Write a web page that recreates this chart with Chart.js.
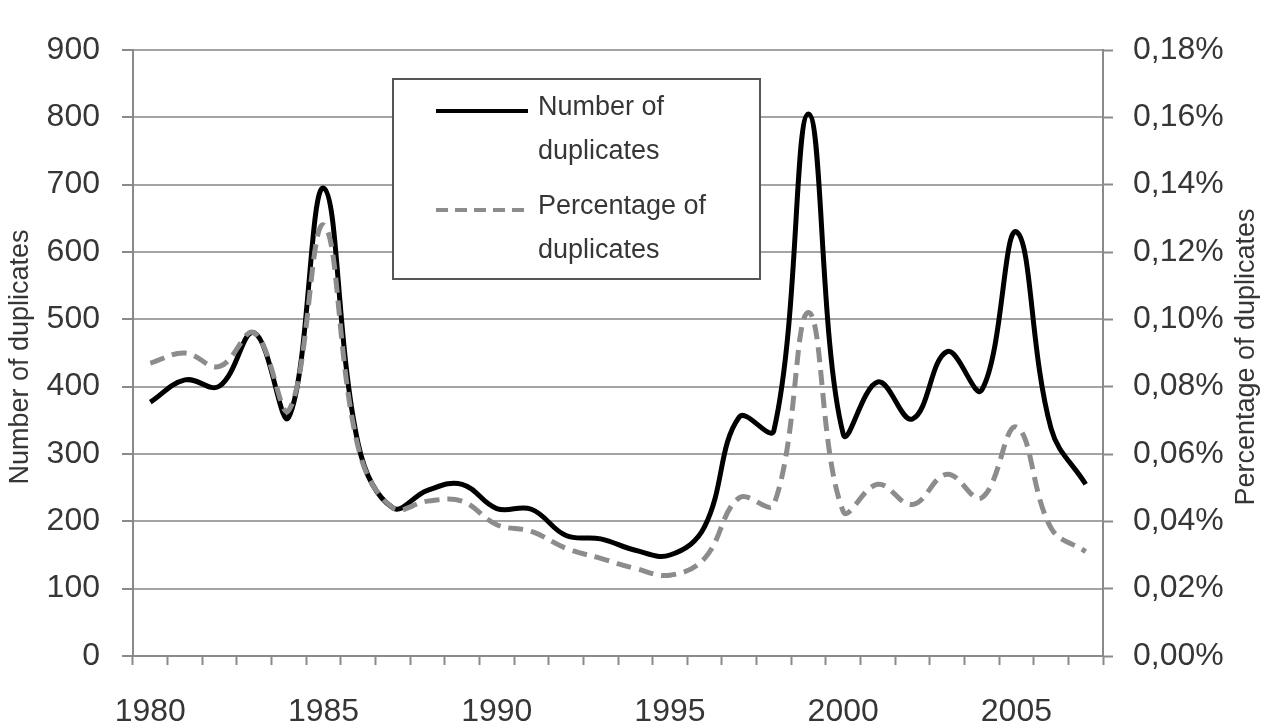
<!DOCTYPE html>
<html>
<head>
<meta charset="utf-8">
<script src="https://cdn.jsdelivr.net/npm/chart.js@4.4.1/dist/chart.umd.min.js"></script>
<style>
  html, body { margin: 0; padding: 0; background: #ffffff; }
  #wrap { width: 1268px; height: 726px; position: relative; }
</style>
</head>
<body>
<div id="wrap"><canvas id="c" width="1268" height="726"></canvas></div>
<script>
// ---- data ----
const years = ["1980","1981","1982","1983","1984","1985","1986","1987","1988","1989",
               "1990","1991","1992","1993","1994","1995","1996","1997","1998","1999",
               "2000","2001","2002","2003","2004","2005","2006","2007"];
const numberOfDuplicates = [377, 410, 401, 480, 355, 695, 315, 220, 246, 255,
                            219, 218, 179, 174, 157, 150, 192, 355, 335, 805,
                            330, 407, 352, 452, 395, 630, 338, 255];
const percentageOfDuplicates = [0.087, 0.090, 0.086, 0.096, 0.073, 0.128, 0.062, 0.044, 0.046, 0.046,
                                0.039, 0.037, 0.032, 0.029, 0.026, 0.024, 0.029, 0.047, 0.045, 0.102,
                                0.043, 0.051, 0.045, 0.054, 0.047, 0.068, 0.038, 0.031];
const seriesLabels = ["Number of duplicates", "Percentage of duplicates"];
const leftAxisTitle = "Number of duplicates";
const rightAxisTitle = "Percentage of duplicates";
const leftTicks = [0, 100, 200, 300, 400, 500, 600, 700, 800, 900];
const rightTicks = [0, 0.02, 0.04, 0.06, 0.08, 0.10, 0.12, 0.14, 0.16, 0.18];

const FONT = "'Liberation Sans Narrow', 'Arial Narrow', 'Liberation Sans', Arial, sans-serif";
const TEXT = '#363636';
const GRID = '#a3a3a3';
const AXIS = '#8a8a8a';

const legendPlugin = {
  id: 'boxLegend',
  afterDraw(chart) {
    const ctx = chart.ctx;
    ctx.save();
    ctx.fillStyle = '#ffffff';
    ctx.fillRect(393, 79, 367, 200);
    ctx.strokeStyle = '#555555';
    ctx.lineWidth = 2;
    ctx.strokeRect(393, 79, 367, 200);
    const ds = chart.data.datasets;
    const rows = [
      { y: 111, ds: ds[0], lines: ['Number of', 'duplicates'] },
      { y: 210, ds: ds[1], lines: ['Percentage of', 'duplicates'] }
    ];
    ctx.font = '27px ' + FONT;
    ctx.textBaseline = 'middle';
    ctx.textAlign = 'left';
    rows.forEach(r => {
      ctx.beginPath();
      ctx.strokeStyle = r.ds.borderColor;
      ctx.lineWidth = 4;
      ctx.setLineDash(r.ds.borderDash ? [12, 7] : []);
      ctx.moveTo(436, r.y);
      ctx.lineTo(528, r.y);
      ctx.stroke();
      ctx.setLineDash([]);
      ctx.fillStyle = TEXT;
      ctx.fillText(r.lines[0], 538, r.y - 3);
      ctx.fillText(r.lines[1], 538, r.y + 41);
    });
    ctx.font = '27px ' + FONT;
    ctx.textAlign = 'center';
    ctx.fillStyle = TEXT;
    const cy = (chart.chartArea.top + chart.chartArea.bottom) / 2 + 4;
    ctx.save();
    ctx.translate(21, cy);
    ctx.rotate(-Math.PI / 2);
    ctx.fillText(leftAxisTitle, 0, 0);
    ctx.restore();
    ctx.save();
    ctx.translate(1247, cy);
    ctx.rotate(-Math.PI / 2);
    ctx.fillText(rightAxisTitle, 0, 0);
    ctx.restore();
    ctx.restore();
  }
};

new Chart(document.getElementById('c'), {
  type: 'line',
  data: {
    labels: years,
    datasets: [
      {
        label: seriesLabels[0],
        data: numberOfDuplicates,
        yAxisID: 'y',
        borderColor: '#000000',
        borderWidth: 5,
        pointRadius: 0,
        tension: 0.4,
        fill: false,
        order: 2
      },
      {
        label: seriesLabels[1],
        data: percentageOfDuplicates,
        yAxisID: 'y1',
        borderColor: '#8c8c8c',
        borderWidth: 5,
        borderDash: [15, 8],
        pointRadius: 0,
        tension: 0.4,
        fill: false,
        order: 1
      }
    ]
  },
  options: {
    responsive: false,
    animation: false,
    events: [],
    layout: { padding: { top: 50, left: 0, right: 0, bottom: 0 } },
    plugins: { legend: { display: false }, tooltip: { enabled: false }, title: { display: false } },
    scales: {
      x: {
        type: 'category',
        offset: true,
        grid: { offset: true, drawOnChartArea: false, drawTicks: true, tickLength: 9, tickColor: AXIS, tickWidth: 2 },
        border: { display: true, color: AXIS, width: 2 },
        ticks: {
          autoSkip: false, maxRotation: 0, minRotation: 0, padding: 28,
          color: TEXT, font: { family: FONT, size: 32 },
          callback: function (v, i) { return (i % 5 === 0) ? this.getLabelForValue(v) : ''; }
        },
        afterFit(scale) { scale.height = 70; }
      },
      y: {
        position: 'left',
        min: 0, max: 900,
        afterBuildTicks(scale) { scale.ticks = leftTicks.map(v => ({ value: v })); },
        grid: { color: GRID, lineWidth: 2, drawTicks: true, tickLength: 11, tickColor: AXIS, tickWidth: 2 },
        border: { display: true, color: AXIS, width: 2 },
        ticks: { padding: 22, color: TEXT, font: { family: FONT, size: 32 } },
        afterFit(scale) { scale.width = 133; }
      },
      y1: {
        position: 'right',
        min: 0, max: 0.18,
        afterBuildTicks(scale) { scale.ticks = rightTicks.map(v => ({ value: v })); },
        grid: { drawOnChartArea: false, drawTicks: true, tickLength: 10, tickColor: AXIS, tickWidth: 2 },
        border: { display: true, color: AXIS, width: 2 },
        ticks: {
          padding: 20, color: TEXT, font: { family: FONT, size: 32 },
          callback: v => v.toFixed(2).replace('.', ',') + '%'
        },
        afterFit(scale) { scale.width = 165; }
      }
    }
  },
  plugins: [legendPlugin]
});
</script>
</body>
</html>
